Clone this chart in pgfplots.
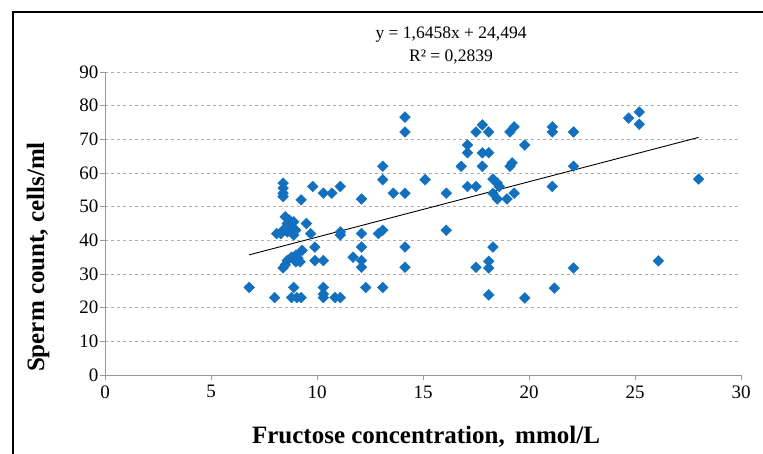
\documentclass[border=0pt]{standalone}
\usepackage{fontspec}
\setmainfont{Liberation Serif}
\usepackage{pgfplots}
\pgfplotsset{compat=1.18}
\definecolor{mblue}{RGB}{18,112,190}
\begin{document}
\begin{tikzpicture}[x=1pt,y=1pt]
\useasboundingbox (0,0) rectangle (763,454);
\draw[black, line width=1.2pt] (13,0) -- (13,442) -- (763,442);
\begin{axis}[at={(105pt,79pt)}, anchor=south west, scale only axis,
  width=636pt, height=303pt,
  xmin=0, xmax=30, ymin=0, ymax=90,
  xtick={0,5,...,30}, ytick={0,10,...,90},
  axis x line*=bottom, axis y line*=left,
  axis line style={gray!80, -, line width=0.8pt},
  ymajorgrids, grid style={gray!65, dashed, line width=0.8pt},
  tick style={gray!80, line width=0.8pt}, tick align=outside, major tick length=5pt,
  /pgf/number format/assume math mode=true,
  ticklabel style={font=\fontsize{19}{21}\selectfont},
  yticklabel style={xshift=2pt},
  xticklabel style={yshift=-2pt},
  clip=false]
\addplot[only marks, mark=square*, mark size=3.8pt, mark options={rotate=45, fill=mblue, draw=mblue}] coordinates {
(6.8,26) (8.0,23) (8.1,42) (8.3,42)
(8.4,57) (8.4,55.5) (8.4,54) (8.4,53)
(8.5,47) (8.7,46) (8.9,45.5) (8.6,45) (8.8,44) (9.0,43) (8.4,43) (8.6,42.5) (8.9,41.6)
(9.5,45) (9.7,42)
(9.25,52) (9.8,56) (10.3,54) (10.7,54) (11.1,56)
(11.1,42.5) (11.1,41.6)
(12.1,52.3)
(12.1,42) (12.9,42) (13.1,43)
(9.3,37) (9.9,38)
(9.0,35.6) (8.8,35) (9.1,34.7) (8.6,34) (9.0,33.6) (9.2,33.6) (8.5,32.7) (8.4,31.8)
(9.9,34) (10.3,34)
(11.7,35) (12.1,38) (12.1,34) (12.1,32)
(8.9,26) (8.8,23) (9.05,23) (9.25,23)
(10.3,26) (10.3,24) (10.3,23)
(10.85,23) (11.1,23)
(12.3,26) (13.1,26)
(14.15,76.6) (14.15,72.2)
(13.1,62) (13.1,58) (15.1,58)
(13.6,54) (14.15,54)
(16.1,54) (16.8,62) (17.1,68.3) (17.1,66) (17.5,72.2) (17.8,74.3) (18.1,72.2) (17.8,66) (18.1,66) (17.8,62)
(17.1,56) (17.5,56)
(18.3,58.2) (18.5,57) (18.6,56) (18.3,54) (18.5,52.3) (18.96,52.3) (19.3,54)
(19.1,62) (19.2,63) (19.1,72.2) (19.3,73.7) (19.8,68.3)
(21.1,73.7) (21.1,72.2) (21.1,56) (22.1,72.2) (22.1,62)
(14.15,38) (14.15,32) (16.1,43) (17.5,32)
(18.3,38) (18.1,33.8) (18.1,31.8) (18.1,23.8) (19.8,22.9) (21.2,25.8) (22.1,31.8)
(24.7,76.3) (25.2,78.1) (25.2,74.5) (28.0,58.2) (26.1,33.9)
};
\addplot[black, line width=0.9pt] coordinates {(6.8,35.685) (28.0,70.576)};
\end{axis}
\node[font=\fontsize{17.5}{19}\selectfont] at (451,419) {y = 1,6458x + 24,494};
\node[font=\fontsize{17.5}{19}\selectfont] at (451,397) {R² = 0,2839};
\node[font=\bfseries\fontsize{25}{28}\selectfont] at (426,17) {Fructose concentration, \,mmol/L};
\node[font=\bfseries\fontsize{25}{28}\selectfont, rotate=90] at (38,197) {Sperm count, cells/ml};
\end{tikzpicture}
\end{document}
